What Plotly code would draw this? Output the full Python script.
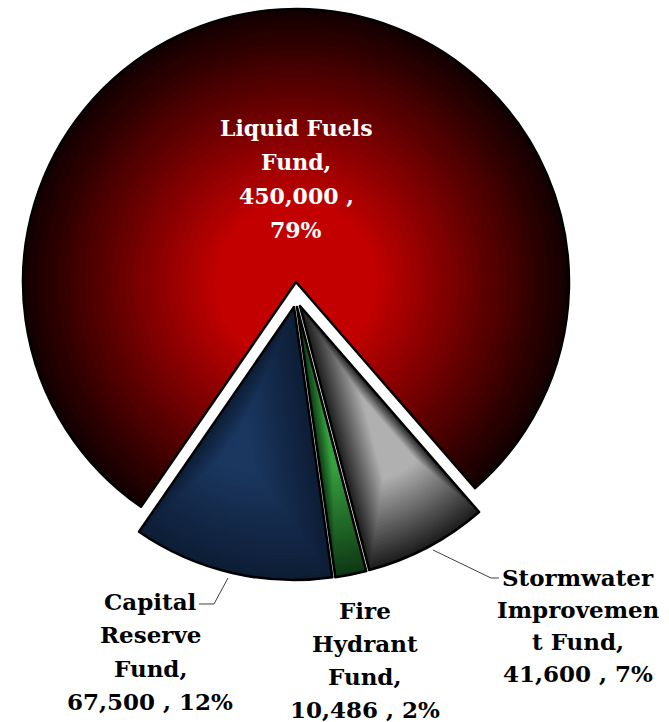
import math
import plotly.graph_objects as go

# Fund allocations (clockwise from the top of the pie)
funds = ["Liquid Fuels Fund", "Stormwater Improvement Fund", "Fire Hydrant Fund", "Capital Reserve Fund"]
amounts = [450000, 41600, 10486, 67500]
# label text as wrapped in the chart
label_lines = [
    ["Liquid Fuels", "Fund,"],
    ["Stormwater", "Improvemen", "t Fund,"],
    ["Fire", "Hydrant", "Fund,"],
    ["Capital", "Reserve", "Fund,"],
]

W, H = 669, 722
R = 273                       # pie radius, px
CENTER = (296, 282)           # pie centre, px
RED_BISECTOR = -3.2           # direction of the large slice's middle, deg clockwise from 12 o'clock
# the small slices are pulled out together, each with a tiny separation
OFFSETS = [(0, 0), (4, 24), (1, 25), (-2, 25)]

# gradients: (centre colour, edge colour, fraction kept flat, gradient centre mode)
GRADIENTS = [
    ((194, 0, 0), (20, 0, 0), 0.30, "apex"),
    ((176, 176, 176), (30, 30, 30), 0.32, "box"),
    ((54, 160, 62), (14, 56, 20), 0.20, "box"),
    ((27, 55, 95), (13, 29, 54), 0.20, "box"),
]

total = sum(amounts)
shares = [v / total for v in amounts]
rotation = RED_BISECTOR - shares[0] * 360 / 2

# slice angles (deg clockwise from 12 o'clock)
angles = []
a = rotation
for s in shares:
    angles.append((a, a + s * 360))
    a += s * 360


def pt(apex, r, ang):
    t = math.radians(ang)
    return (apex[0] + r * math.sin(t), apex[1] - r * math.cos(t))


def bbox_center(apex, a0, a1):
    pts = [apex, pt(apex, R, a0), pt(apex, R, a1)]
    k = math.ceil(a0 / 90)
    while k * 90 <= a1:
        pts.append(pt(apex, R, k * 90))
        k += 1
    xs = [p[0] for p in pts]
    ys = [p[1] for p in pts]
    return ((min(xs) + max(xs)) / 2, (min(ys) + max(ys)) / 2)


def domain(cx, cy, r):
    return dict(x=[(cx - r) / W, (cx + r) / W], y=[1 - (cy + r) / H, 1 - (cy - r) / H])


CLEAR = "rgba(0,0,0,0)"


def pie(idx_colors, dom, line_w=0):
    cols = [CLEAR] * len(amounts)
    widths = [0] * len(amounts)
    for i, c in idx_colors:
        cols[i] = c
        widths[i] = line_w
    return go.Pie(
        values=amounts, labels=funds, sort=False, direction="clockwise",
        rotation=rotation, domain=dom, textinfo="none", hoverinfo="skip",
        showlegend=False,
        marker=dict(colors=cols, line=dict(color="black", width=widths)),
    )


fig = go.Figure()

N = 40
for i in range(len(amounts)):
    apex = (CENTER[0] + OFFSETS[i][0], CENTER[1] + OFFSETS[i][1])
    c0, c1, flat, mode = GRADIENTS[i]
    c = apex if mode == "apex" else bbox_center(apex, *angles[i])
    for k in range(N):
        s = 1 - k / N
        t = min(1.0, max(0.0, (s - flat) / (1 - flat)))
        col = "rgb(%d,%d,%d)" % tuple(round(c0[j] + (c1[j] - c0[j]) * t) for j in range(3))
        ax = c[0] + s * (apex[0] - c[0])
        ay = c[1] + s * (apex[1] - c[1])
        fig.add_trace(pie([(i, col)], domain(ax, ay, s * R)))

# black outlines on top
for i in range(len(amounts)):
    apex = (CENTER[0] + OFFSETS[i][0], CENTER[1] + OFFSETS[i][1])
    fig.add_trace(pie([(i, CLEAR)], domain(apex[0], apex[1], R), line_w=2.5))


def fmt(i):
    pct = round(shares[i] * 100)
    return "{:,}".format(amounts[i]), "{}%".format(pct)


def px(x, y):
    return x / W, 1 - y / H


FONT = "DejaVu Serif"
annotations = []


def add_label(lines, cx, top, step, size, color):
    for n, line in enumerate(lines):
        x, y = px(cx, top + n * step)
        annotations.append(dict(x=x, y=y, xref="paper", yref="paper", showarrow=False,
                                xanchor="center", yanchor="middle",
                                text="<b>%s</b>" % line,
                                font=dict(family=FONT, size=size, color=color)))


# large slice: label inside
num, pct = fmt(0)
add_label(label_lines[0] + [num + " ,", pct], 296, 128, 34, 22, "white")
# small slices: labels outside
label_pos = {1: (578, 577, 32), 2: (365, 610, 33), 3: (150, 601, 33.5)}
for i, (lx, top, step) in label_pos.items():
    num, pct = fmt(i)
    add_label(label_lines[i] + [num + " , " + pct], lx, top, step, 23, "black")

# leader lines
leaders = [
    [(228, 578), (214, 604), (199, 604)],
    [(433, 550), (491, 578), (499, 578)],
]
shapes = []
for pts in leaders:
    p = [px(*q) for q in pts]
    path = "M %f %f " % p[0] + " ".join("L %f %f" % q for q in p[1:])
    shapes.append(dict(type="path", xref="paper", yref="paper", path=path,
                       line=dict(color="#404040", width=1)))

fig.update_layout(
    width=W, height=H, margin=dict(l=0, r=0, t=0, b=0),
    paper_bgcolor="white", plot_bgcolor="white",
    annotations=annotations, shapes=shapes,
)

fig.write_html("out.html")
